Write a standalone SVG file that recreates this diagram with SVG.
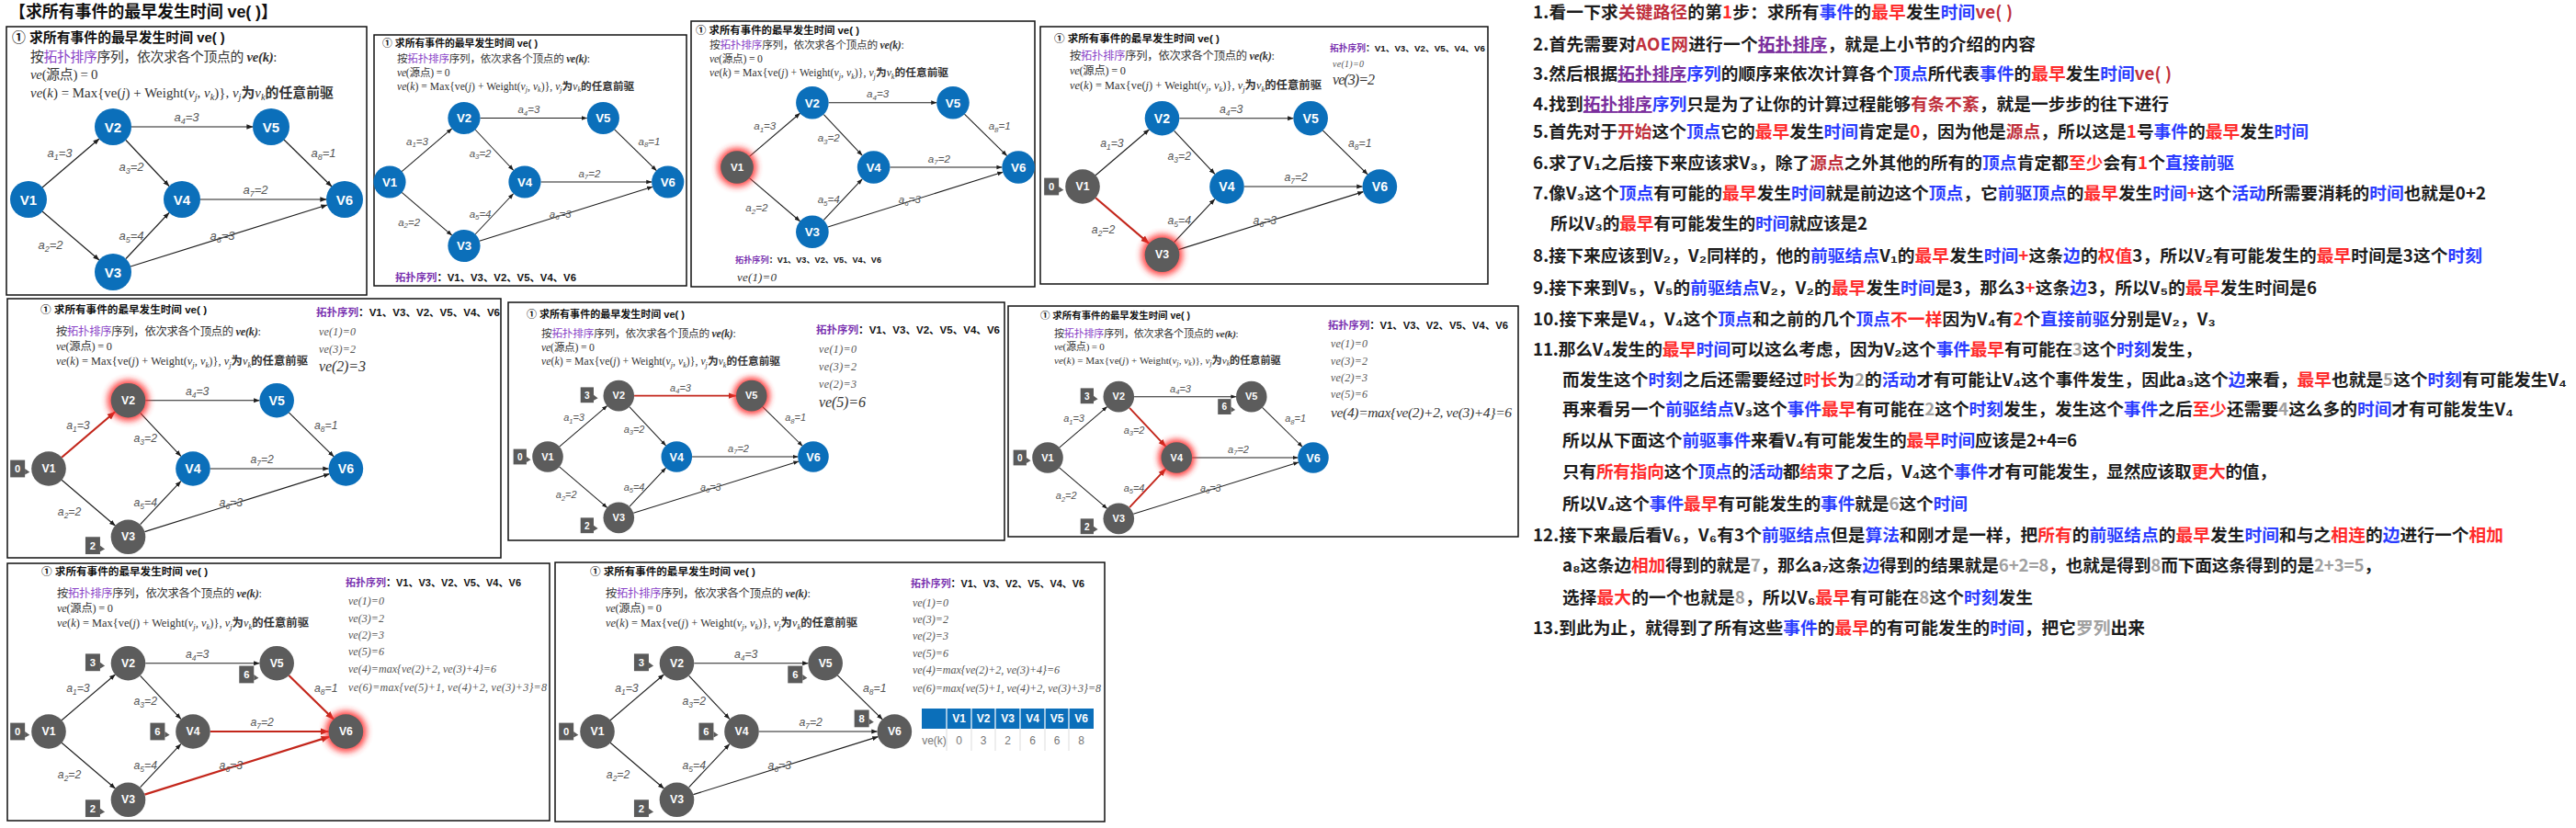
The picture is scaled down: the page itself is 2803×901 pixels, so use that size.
<svg xmlns="http://www.w3.org/2000/svg" xmlns:xlink="http://www.w3.org/1999/xlink" width="2803" height="901" viewBox="0 0 2803 901">
<style>
.box{fill:#fff;stroke:#111;stroke-width:1.5}
.nb{fill:#0b6fba}
.ng{fill:#5c5c5c}
.glow{fill:#ff2e2e;opacity:.9}
.nl{font-family:"Liberation Sans",Arial,sans-serif;font-weight:bold;font-size:15px;fill:#fff;text-anchor:middle}
.ngl{font-size:13px}
.e{stroke:#1e1e1e;stroke-width:1.2;fill:none;marker-end:url(#ak)}
.er{stroke:#c3261b;stroke-width:2.3;fill:none;marker-end:url(#ar)}
.lb{font-family:"Liberation Sans",Arial,sans-serif;font-style:italic;font-size:13px;fill:#555;text-anchor:middle}
.sb{font-size:9px}
.cb{fill:#5a5a5a}
.ct{font-family:"Liberation Sans",Arial,sans-serif;font-weight:bold;font-size:12px;fill:#fff;text-anchor:middle}
.ttl{font-family:"Liberation Sans","Noto Sans CJK SC",sans-serif;font-weight:bold;fill:#111}
.frm{font-family:"Liberation Serif","Noto Sans CJK SC",serif;fill:#333}
.pu{fill:#8b45c8}
.it{font-style:italic}
.bi{font-style:italic;font-weight:bold}
.cj{font-family:"Noto Sans CJK SC",sans-serif;font-weight:bold}
.topo{font-family:"Liberation Sans","Noto Sans CJK SC",sans-serif;font-weight:bold;fill:#111}
.tp{fill:#7a32b0}
.ve{font-family:"Liberation Serif",serif;font-style:italic;fill:#555}
.vb{fill:#333}
.rt{font-family:"Noto Sans CJK SC",sans-serif;font-weight:bold;font-size:18.7px;fill:#1c1c1c}
.r{fill:#ff2b2b}.dr{fill:#c0303c}.b{fill:#2a3cff}.p{fill:#7b2f9d;text-decoration:underline}.g{fill:#a0a0a0}
.th{font-family:"Liberation Sans",Arial,sans-serif;font-weight:bold;font-size:12px;fill:#fff;text-anchor:middle}
.td{font-family:"Liberation Sans",Arial,sans-serif;font-size:12px;fill:#777;text-anchor:middle}
</style>
<defs>
<marker id="ak" viewBox="0 0 10 10" refX="9.5" refY="5" markerWidth="7" markerHeight="7" markerUnits="userSpaceOnUse" orient="auto"><path d="M0,1.2L10,5L0,8.8z" fill="#1e1e1e"/></marker>
<marker id="ar" viewBox="0 0 10 10" refX="9.5" refY="5" markerWidth="10" markerHeight="10" markerUnits="userSpaceOnUse" orient="auto"><path d="M0,1.2L10,5L0,8.8z" fill="#c3261b"/></marker>
<filter id="gl" x="-1" y="-1" width="3" height="3"><feGaussianBlur stdDeviation="4"/></filter>
<g id="ttl"><text class="ttl" x="0" y="0" font-size="11.6" textLength="181">① 求所有事件的最早发生时间 ve( )</text></g>
<g id="frm">
<text class="frm" x="0" y="0" font-size="12.3" textLength="223">按<tspan class="pu">拓扑排序</tspan>序列，依次求各个顶点的 <tspan class="bi">ve(k)</tspan>:</text>
<text class="frm" x="0" y="16" font-size="12.3" textLength="61"><tspan class="it">ve</tspan>(源点) = 0</text>
<text class="frm" x="0" y="32" font-size="12.3" textLength="274"><tspan class="it">ve</tspan>(<tspan class="it">k</tspan>) = Max{ve(<tspan class="it">j</tspan>) + Weight(<tspan class="it">v</tspan><tspan class="it" font-size="8.5" dy="2.5">j</tspan><tspan dy="-2.5">, </tspan><tspan class="it">v</tspan><tspan class="it" font-size="8.5" dy="2.5">k</tspan><tspan dy="-2.5">)}, </tspan><tspan class="it">v</tspan><tspan class="it" font-size="8.5" dy="2.5">j</tspan><tspan dy="-2.5" class="cj">为</tspan><tspan class="it">v</tspan><tspan class="it" font-size="8.5" dy="2.5">k</tspan><tspan dy="-2.5" class="cj">的任意前驱</tspan></text>
</g>
<g id="topo"><text class="topo" x="0" y="0" font-size="11.5" textLength="200"><tspan class="tp">拓扑序列</tspan>：V1、V3、V2、V5、V4、V6</text></g>
<g id="lbls">
<text class="lb" x="34" y="-46">a<tspan class="sb" dy="3">1</tspan><tspan dy="-3">=3</tspan></text>
<text class="lb" x="24" y="54">a<tspan class="sb" dy="3">2</tspan><tspan dy="-3">=2</tspan></text>
<text class="lb" x="112" y="-31">a<tspan class="sb" dy="3">3</tspan><tspan dy="-3">=2</tspan></text>
<text class="lb" x="172" y="-85">a<tspan class="sb" dy="3">4</tspan><tspan dy="-3">=3</tspan></text>
<text class="lb" x="112" y="44">a<tspan class="sb" dy="3">5</tspan><tspan dy="-3">=4</tspan></text>
<text class="lb" x="211" y="44">a<tspan class="sb" dy="3">6</tspan><tspan dy="-3">=3</tspan></text>
<text class="lb" x="247" y="-6">a<tspan class="sb" dy="3">7</tspan><tspan dy="-3">=2</tspan></text>
<text class="lb" x="321" y="-46">a<tspan class="sb" dy="3">8</tspan><tspan dy="-3">=1</tspan></text>
</g>
<g id="co"><rect class="cb" x="-8.5" y="-10" width="17" height="20"/><path class="cb" d="M8.5,0L14,4L8.5,7z"/></g>
</defs>
<rect width="2803" height="901" fill="#fff"/>
<text class="ttl" x="10" y="19" font-size="18" textLength="292">【求所有事件的最早发生时间 ve( )】</text>

<!-- Panel 1 -->
<g id="panel1">
<rect class="box" x="7" y="29" width="392" height="292"/>
<use href="#ttl" transform="translate(13,46) scale(1.28)"/>
<use href="#frm" transform="translate(33,67) scale(1.204)"/>
<g transform="translate(31,217)">
<g id="p1-edges">
<path class="e" d="M15,-13L77,-66"/><path class="e" d="M15,13L77,66"/><path class="e" d="M106,-64.5L153,-14.5"/><path class="e" d="M112,-79L244,-79"/><path class="e" d="M106,64.5L153,14.5"/><path class="e" d="M111,73L325,6"/><path class="e" d="M187,0L324,0"/><path class="e" d="M278,-65L330,-14"/>
<use href="#lbls"/>
</g>
<g id="p1-v1"><circle class="nb" r="20"/><text class="nl" y="5.5">V1</text></g>
<g id="p1-v2" transform="translate(92,-79)"><circle class="nb" r="20"/><text class="nl" y="5.5">V2</text></g>
<g id="p1-v3" transform="translate(92,79)"><circle class="nb" r="20"/><text class="nl" y="5.5">V3</text></g>
<g id="p1-v4" transform="translate(167,0)"><circle class="nb" r="20"/><text class="nl" y="5.5">V4</text></g>
<g id="p1-v5" transform="translate(264,-79)"><circle class="nb" r="20"/><text class="nl" y="5.5">V5</text></g>
<g id="p1-v6" transform="translate(344,0)"><circle class="nb" r="20"/><text class="nl" y="5.5">V6</text></g>
</g>
</g>

<!-- Panel 2 -->
<g id="panel2">
<rect class="box" x="407" y="38" width="340" height="273"/>
<use href="#ttl" transform="translate(416,51) scale(0.934)"/>
<use href="#frm" transform="translate(432,68) scale(0.942)"/>
<use href="#topo" transform="translate(430,306) scale(0.985)"/>
<g transform="translate(424,198) scale(0.88)">
<g id="p2-edges">
<path class="e" d="M15,-13L77,-66"/><path class="e" d="M15,13L77,66"/><path class="e" d="M106,-64.5L153,-14.5"/><path class="e" d="M112,-79L244,-79"/><path class="e" d="M106,64.5L153,14.5"/><path class="e" d="M111,73L325,6"/><path class="e" d="M187,0L324,0"/><path class="e" d="M278,-65L330,-14"/>
<use href="#lbls"/>
</g>
<g id="p2-v1"><circle class="nb" r="20"/><text class="nl" y="5.5">V1</text></g>
<g id="p2-v2" transform="translate(92,-79)"><circle class="nb" r="20"/><text class="nl" y="5.5">V2</text></g>
<g id="p2-v3" transform="translate(92,79)"><circle class="nb" r="20"/><text class="nl" y="5.5">V3</text></g>
<g id="p2-v4" transform="translate(167,0)"><circle class="nb" r="20"/><text class="nl" y="5.5">V4</text></g>
<g id="p2-v5" transform="translate(264,-79)"><circle class="nb" r="20"/><text class="nl" y="5.5">V5</text></g>
<g id="p2-v6" transform="translate(344,0)"><circle class="nb" r="20"/><text class="nl" y="5.5">V6</text></g>
</g>
</g>

<!-- Panel 3 -->
<g id="panel3">
<rect class="box" x="752" y="23" width="374" height="289"/>
<use href="#ttl" transform="translate(757,37) scale(0.983)"/>
<use href="#frm" transform="translate(772,53) scale(0.949)"/>
<use href="#topo" transform="translate(800,286) scale(0.795)"/>
<text class="ve vb" x="802" y="306" font-size="13" textLength="43">ve(1)=0</text>
<g transform="translate(802,182) scale(0.89)">
<g id="p3-edges">
<path class="e" d="M15,-13L77,-66"/><path class="e" d="M15,13L77,66"/><path class="e" d="M106,-64.5L153,-14.5"/><path class="e" d="M112,-79L244,-79"/><path class="e" d="M106,64.5L153,14.5"/><path class="e" d="M111,73L325,6"/><path class="e" d="M187,0L324,0"/><path class="e" d="M278,-65L330,-14"/>
<use href="#lbls"/>
</g>
<g id="p3-v1"><circle class="glow" r="24" filter="url(#gl)"/><circle class="ng" r="20"/><text class="nl ngl" y="4.5">V1</text></g>
<g id="p3-v2" transform="translate(92,-79)"><circle class="nb" r="20"/><text class="nl" y="5.5">V2</text></g>
<g id="p3-v3" transform="translate(92,79)"><circle class="nb" r="20"/><text class="nl" y="5.5">V3</text></g>
<g id="p3-v4" transform="translate(167,0)"><circle class="nb" r="20"/><text class="nl" y="5.5">V4</text></g>
<g id="p3-v5" transform="translate(264,-79)"><circle class="nb" r="20"/><text class="nl" y="5.5">V5</text></g>
<g id="p3-v6" transform="translate(344,0)"><circle class="nb" r="20"/><text class="nl" y="5.5">V6</text></g>
</g>
</g>

<!-- Panel 4 -->
<g id="panel4">
<rect class="box" x="1132" y="29" width="487" height="280"/>
<use href="#ttl" transform="translate(1147,46) scale(0.994)"/>
<use href="#frm" transform="translate(1164,65)"/>
<use href="#topo" transform="translate(1447,56) scale(0.845)"/>
<text class="ve" x="1450" y="73" font-size="10" textLength="34">ve(1)=0</text>
<text class="ve vb" x="1450" y="92" font-size="16" textLength="46">ve(3)=2</text>
<g transform="translate(1178,203) scale(0.94)">
<g id="p4-edges">
<path class="e" d="M15,-13L77,-66"/><path class="er" d="M15,13L77,66"/><path class="e" d="M106,-64.5L153,-14.5"/><path class="e" d="M112,-79L244,-79"/><path class="e" d="M106,64.5L153,14.5"/><path class="e" d="M111,73L325,6"/><path class="e" d="M187,0L324,0"/><path class="e" d="M278,-65L330,-14"/>
<use href="#lbls"/>
</g>
<g id="p4-c0" transform="translate(-36,0)"><use href="#co"/><text class="ct" y="4.5">0</text></g>
<g id="p4-v1"><circle class="ng" r="20"/><text class="nl ngl" y="4.5">V1</text></g>
<g id="p4-v2" transform="translate(92,-79)"><circle class="nb" r="20"/><text class="nl" y="5.5">V2</text></g>
<g id="p4-v3" transform="translate(92,79)"><circle class="glow" r="24" filter="url(#gl)"/><circle class="ng" r="20"/><text class="nl ngl" y="4.5">V3</text></g>
<g id="p4-v4" transform="translate(167,0)"><circle class="nb" r="20"/><text class="nl" y="5.5">V4</text></g>
<g id="p4-v5" transform="translate(264,-79)"><circle class="nb" r="20"/><text class="nl" y="5.5">V5</text></g>
<g id="p4-v6" transform="translate(344,0)"><circle class="nb" r="20"/><text class="nl" y="5.5">V6</text></g>
</g>
</g>

<!-- Panel 5 -->
<g id="panel5">
<rect class="box" x="8" y="325" width="537" height="282"/>
<use href="#ttl" transform="translate(44,341)"/>
<use href="#frm" transform="translate(61,365)"/>
<use href="#topo" transform="translate(344,344)"/>
<text class="ve" x="347" y="365" font-size="12" textLength="40">ve(1)=0</text>
<text class="ve" x="347" y="384" font-size="12" textLength="40">ve(3)=2</text>
<text class="ve vb" x="347" y="404" font-size="16" textLength="51">ve(2)=3</text>
<g transform="translate(53,510) scale(0.94)">
<g id="p5-edges">
<path class="er" d="M15,-13L77,-66"/><path class="e" d="M15,13L77,66"/><path class="e" d="M106,-64.5L153,-14.5"/><path class="e" d="M112,-79L244,-79"/><path class="e" d="M106,64.5L153,14.5"/><path class="e" d="M111,73L325,6"/><path class="e" d="M187,0L324,0"/><path class="e" d="M278,-65L330,-14"/>
<use href="#lbls"/>
</g>
<g id="p5-c0" transform="translate(-36,0)"><use href="#co"/><text class="ct" y="4.5">0</text></g>
<g id="p5-c2" transform="translate(51,89)"><use href="#co"/><text class="ct" y="4.5">2</text></g>
<g id="p5-v1"><circle class="ng" r="20"/><text class="nl ngl" y="4.5">V1</text></g>
<g id="p5-v2" transform="translate(92,-79)"><circle class="glow" r="24" filter="url(#gl)"/><circle class="ng" r="20"/><text class="nl ngl" y="4.5">V2</text></g>
<g id="p5-v3" transform="translate(92,79)"><circle class="ng" r="20"/><text class="nl ngl" y="4.5">V3</text></g>
<g id="p5-v4" transform="translate(167,0)"><circle class="nb" r="20"/><text class="nl" y="5.5">V4</text></g>
<g id="p5-v5" transform="translate(264,-79)"><circle class="nb" r="20"/><text class="nl" y="5.5">V5</text></g>
<g id="p5-v6" transform="translate(344,0)"><circle class="nb" r="20"/><text class="nl" y="5.5">V6</text></g>
</g>
</g>

<!-- Panel 6 -->
<g id="panel6">
<rect class="box" x="553" y="329" width="540" height="259"/>
<use href="#ttl" transform="translate(573,346) scale(0.95)"/>
<use href="#frm" transform="translate(589,367) scale(0.949)"/>
<use href="#topo" transform="translate(888,363)"/>
<text class="ve" x="891" y="384" font-size="12" textLength="41">ve(1)=0</text>
<text class="ve" x="891" y="403" font-size="12" textLength="41">ve(3)=2</text>
<text class="ve" x="891" y="422" font-size="12" textLength="41">ve(2)=3</text>
<text class="ve vb" x="891" y="443" font-size="16" textLength="51">ve(5)=6</text>
<g transform="translate(596,497) scale(0.84)">
<g id="p6-edges">
<path class="e" d="M15,-13L77,-66"/><path class="e" d="M15,13L77,66"/><path class="e" d="M106,-64.5L153,-14.5"/><path class="er" d="M112,-79L244,-79"/><path class="e" d="M106,64.5L153,14.5"/><path class="e" d="M111,73L325,6"/><path class="e" d="M187,0L324,0"/><path class="e" d="M278,-65L330,-14"/>
<use href="#lbls"/>
</g>
<g id="p6-c3" transform="translate(51,-80)"><use href="#co"/><text class="ct" y="4.5">3</text></g>
<g id="p6-c0" transform="translate(-36,0)"><use href="#co"/><text class="ct" y="4.5">0</text></g>
<g id="p6-c2" transform="translate(51,89)"><use href="#co"/><text class="ct" y="4.5">2</text></g>
<g id="p6-v1"><circle class="ng" r="20"/><text class="nl ngl" y="4.5">V1</text></g>
<g id="p6-v2" transform="translate(92,-79)"><circle class="ng" r="20"/><text class="nl ngl" y="4.5">V2</text></g>
<g id="p6-v3" transform="translate(92,79)"><circle class="ng" r="20"/><text class="nl ngl" y="4.5">V3</text></g>
<g id="p6-v4" transform="translate(167,0)"><circle class="nb" r="20"/><text class="nl" y="5.5">V4</text></g>
<g id="p6-v5" transform="translate(264,-79)"><circle class="glow" r="24" filter="url(#gl)"/><circle class="ng" r="20"/><text class="nl ngl" y="4.5">V5</text></g>
<g id="p6-v6" transform="translate(344,0)"><circle class="nb" r="20"/><text class="nl" y="5.5">V6</text></g>
</g>
</g>

<!-- Panel 7 -->
<g id="panel7">
<rect class="box" x="1097" y="333" width="555" height="251"/>
<use href="#ttl" transform="translate(1132,347) scale(0.9)"/>
<use href="#frm" transform="translate(1147,367) scale(0.9)"/>
<use href="#topo" transform="translate(1445,358) scale(0.98)"/>
<text class="ve" x="1448" y="378" font-size="12" textLength="40">ve(1)=0</text>
<text class="ve" x="1448" y="397" font-size="12" textLength="40">ve(3)=2</text>
<text class="ve" x="1448" y="415" font-size="12" textLength="40">ve(2)=3</text>
<text class="ve" x="1448" y="433" font-size="12" textLength="40">ve(5)=6</text>
<text class="ve vb" x="1448" y="454" font-size="15.5" textLength="197">ve(4)=max{ve(2)+2, ve(3)+4}=6</text>
<g transform="translate(1140,498) scale(0.84)">
<g id="p7-edges">
<path class="e" d="M15,-13L77,-66"/><path class="e" d="M15,13L77,66"/><path class="er" d="M106,-64.5L153,-14.5"/><path class="e" d="M112,-79L244,-79"/><path class="er" d="M106,64.5L153,14.5"/><path class="e" d="M111,73L325,6"/><path class="e" d="M187,0L324,0"/><path class="e" d="M278,-65L330,-14"/>
<use href="#lbls"/>
</g>
<g id="p7-c3" transform="translate(51,-80)"><use href="#co"/><text class="ct" y="4.5">3</text></g>
<g id="p7-c6" transform="translate(229,-66)"><use href="#co"/><text class="ct" y="4.5">6</text></g>
<g id="p7-c0" transform="translate(-36,0)"><use href="#co"/><text class="ct" y="4.5">0</text></g>
<g id="p7-c2" transform="translate(51,89)"><use href="#co"/><text class="ct" y="4.5">2</text></g>
<g id="p7-v1"><circle class="ng" r="20"/><text class="nl ngl" y="4.5">V1</text></g>
<g id="p7-v2" transform="translate(92,-79)"><circle class="ng" r="20"/><text class="nl ngl" y="4.5">V2</text></g>
<g id="p7-v3" transform="translate(92,79)"><circle class="ng" r="20"/><text class="nl ngl" y="4.5">V3</text></g>
<g id="p7-v4" transform="translate(167,0)"><circle class="glow" r="24" filter="url(#gl)"/><circle class="ng" r="20"/><text class="nl ngl" y="4.5">V4</text></g>
<g id="p7-v5" transform="translate(264,-79)"><circle class="ng" r="20"/><text class="nl ngl" y="4.5">V5</text></g>
<g id="p7-v6" transform="translate(344,0)"><circle class="nb" r="20"/><text class="nl" y="5.5">V6</text></g>
</g>
</g>

<!-- Panel 8 -->
<g id="panel8">
<rect class="box" x="8" y="613" width="590" height="280"/>
<use href="#ttl" transform="translate(45,626)"/>
<use href="#frm" transform="translate(62,650)"/>
<use href="#topo" transform="translate(376,638) scale(0.955)"/>
<text class="ve" x="379" y="658" font-size="12" textLength="39">ve(1)=0</text>
<text class="ve" x="379" y="677" font-size="12" textLength="39">ve(3)=2</text>
<text class="ve" x="379" y="695" font-size="12" textLength="39">ve(2)=3</text>
<text class="ve" x="379" y="713" font-size="12" textLength="39">ve(5)=6</text>
<text class="ve" x="379" y="732" font-size="12" textLength="161">ve(4)=max{ve(2)+2, ve(3)+4}=6</text>
<text class="ve" x="379" y="752" font-size="12" textLength="216">ve(6)=max{ve(5)+1, ve(4)+2, ve(3)+3}=8</text>
<g transform="translate(53,796) scale(0.94)">
<g id="p8-edges">
<path class="e" d="M15,-13L77,-66"/><path class="e" d="M15,13L77,66"/><path class="e" d="M106,-64.5L153,-14.5"/><path class="e" d="M112,-79L244,-79"/><path class="e" d="M106,64.5L153,14.5"/><path class="er" d="M111,73L325,6"/><path class="er" d="M187,0L324,0"/><path class="er" d="M278,-65L330,-14"/>
<use href="#lbls"/>
</g>
<g id="p8-c3" transform="translate(51,-80)"><use href="#co"/><text class="ct" y="4.5">3</text></g>
<g id="p8-c6a" transform="translate(229,-66)"><use href="#co"/><text class="ct" y="4.5">6</text></g>
<g id="p8-c0" transform="translate(-36,0)"><use href="#co"/><text class="ct" y="4.5">0</text></g>
<g id="p8-c6b" transform="translate(126,0)"><use href="#co"/><text class="ct" y="4.5">6</text></g>
<g id="p8-c2" transform="translate(51,89)"><use href="#co"/><text class="ct" y="4.5">2</text></g>
<g id="p8-v1"><circle class="ng" r="20"/><text class="nl ngl" y="4.5">V1</text></g>
<g id="p8-v2" transform="translate(92,-79)"><circle class="ng" r="20"/><text class="nl ngl" y="4.5">V2</text></g>
<g id="p8-v3" transform="translate(92,79)"><circle class="ng" r="20"/><text class="nl ngl" y="4.5">V3</text></g>
<g id="p8-v4" transform="translate(167,0)"><circle class="ng" r="20"/><text class="nl ngl" y="4.5">V4</text></g>
<g id="p8-v5" transform="translate(264,-79)"><circle class="ng" r="20"/><text class="nl ngl" y="4.5">V5</text></g>
<g id="p8-v6" transform="translate(344,0)"><circle class="glow" r="24" filter="url(#gl)"/><circle class="ng" r="20"/><text class="nl ngl" y="4.5">V6</text></g>
</g>
</g>

<!-- Panel 9 -->
<g id="panel9">
<rect class="box" x="604" y="612" width="598" height="282"/>
<use href="#ttl" transform="translate(642,626) scale(0.994)"/>
<use href="#frm" transform="translate(659,650)"/>
<use href="#topo" transform="translate(991,639) scale(0.945)"/>
<text class="ve" x="993" y="660" font-size="12" textLength="39">ve(1)=0</text>
<text class="ve" x="993" y="678" font-size="12" textLength="39">ve(3)=2</text>
<text class="ve" x="993" y="696" font-size="12" textLength="39">ve(2)=3</text>
<text class="ve" x="993" y="715" font-size="12" textLength="39">ve(5)=6</text>
<text class="ve" x="993" y="733" font-size="12" textLength="160">ve(4)=max{ve(2)+2, ve(3)+4}=6</text>
<text class="ve" x="993" y="753" font-size="12" textLength="205">ve(6)=max{ve(5)+1, ve(4)+2, ve(3)+3}=8</text>
<g id="p9-table">
<rect x="1003" y="771" width="187" height="22" fill="#0b6fba"/>
<path d="M1030,771V793M1057,771V793M1083,771V793M1110,771V793M1137,771V793M1163,771V793" stroke="#fff" stroke-width="1.2"/>
<path d="M1030,793V817M1057,793V817M1083,793V817M1110,793V817M1137,793V817M1163,793V817" stroke="#ddd" stroke-width="1"/>
<text class="th" x="1043.5" y="786">V1</text><text class="th" x="1070" y="786">V2</text><text class="th" x="1096.5" y="786">V3</text><text class="th" x="1123.5" y="786">V4</text><text class="th" x="1150" y="786">V5</text><text class="th" x="1176.5" y="786">V6</text>
<text class="td" x="1016.5" y="810" font-size="11">ve(k)</text>
<text class="td" x="1043.5" y="810">0</text><text class="td" x="1070" y="810">3</text><text class="td" x="1096.5" y="810">2</text><text class="td" x="1123.5" y="810">6</text><text class="td" x="1150" y="810">6</text><text class="td" x="1176.5" y="810">8</text>
</g>
<g transform="translate(650,796) scale(0.94)">
<g id="p9-edges">
<path class="e" d="M15,-13L77,-66"/><path class="e" d="M15,13L77,66"/><path class="e" d="M106,-64.5L153,-14.5"/><path class="e" d="M112,-79L244,-79"/><path class="e" d="M106,64.5L153,14.5"/><path class="e" d="M111,73L325,6"/><path class="e" d="M187,0L324,0"/><path class="e" d="M278,-65L330,-14"/>
<use href="#lbls"/>
</g>
<g id="p9-c3" transform="translate(51,-80)"><use href="#co"/><text class="ct" y="4.5">3</text></g>
<g id="p9-c6a" transform="translate(229,-66)"><use href="#co"/><text class="ct" y="4.5">6</text></g>
<g id="p9-c0" transform="translate(-36,0)"><use href="#co"/><text class="ct" y="4.5">0</text></g>
<g id="p9-c6b" transform="translate(126,0)"><use href="#co"/><text class="ct" y="4.5">6</text></g>
<g id="p9-c8" transform="translate(306,-15)"><use href="#co"/><text class="ct" y="4.5">8</text></g>
<g id="p9-c2" transform="translate(51,89)"><use href="#co"/><text class="ct" y="4.5">2</text></g>
<g id="p9-v1"><circle class="ng" r="20"/><text class="nl ngl" y="4.5">V1</text></g>
<g id="p9-v2" transform="translate(92,-79)"><circle class="ng" r="20"/><text class="nl ngl" y="4.5">V2</text></g>
<g id="p9-v3" transform="translate(92,79)"><circle class="ng" r="20"/><text class="nl ngl" y="4.5">V3</text></g>
<g id="p9-v4" transform="translate(167,0)"><circle class="ng" r="20"/><text class="nl ngl" y="4.5">V4</text></g>
<g id="p9-v5" transform="translate(264,-79)"><circle class="ng" r="20"/><text class="nl ngl" y="4.5">V5</text></g>
<g id="p9-v6" transform="translate(344,0)"><circle class="ng" r="20"/><text class="nl ngl" y="4.5">V6</text></g>
</g>
</g>

<!-- Right-hand notes -->
<g id="notes">
<text class="rt" x="1668" y="20" textLength="522">1.看一下求<tspan class="dr">关键路径</tspan>的第<tspan class="r">1</tspan>步：求所有<tspan class="b">事件</tspan>的<tspan class="r">最早</tspan>发生<tspan class="b">时间</tspan><tspan class="dr">ve( )</tspan></text>
<text class="rt" x="1668" y="55" textLength="547">2.首先需要对<tspan class="dr">AO</tspan><tspan class="b">E</tspan><tspan class="dr">网</tspan>进行一个<tspan class="p">拓扑排序</tspan>，就是上小节的介绍的内容</text>
<text class="rt" x="1668" y="87" textLength="695">3.然后根据<tspan class="p">拓扑排序</tspan><tspan class="b">序列</tspan>的顺序来依次计算各个<tspan class="b">顶点</tspan>所代表<tspan class="b">事件</tspan>的<tspan class="r">最早</tspan>发生<tspan class="b">时间</tspan><tspan class="dr">ve( )</tspan></text>
<text class="rt" x="1668" y="120" textLength="692">4.找到<tspan class="p">拓扑排序</tspan><tspan class="b">序列</tspan>只是为了让你的计算过程能够<tspan class="dr">有条不紊</tspan>，就是一步步的往下进行</text>
<text class="rt" x="1668" y="150" textLength="844">5.首先对于<tspan class="dr">开始</tspan>这个<tspan class="b">顶点</tspan>它的<tspan class="r">最早</tspan>发生<tspan class="b">时间</tspan>肯定是<tspan class="r">0</tspan>，因为他是<tspan class="dr">源点</tspan>，所以这是<tspan class="r">1</tspan>号<tspan class="b">事件</tspan>的<tspan class="r">最早</tspan>发生<tspan class="b">时间</tspan></text>
<text class="rt" x="1668" y="184" textLength="763">6.求了V₁之后接下来应该求V₃，除了<tspan class="dr">源点</tspan>之外其他的所有的<tspan class="b">顶点</tspan>肯定都<tspan class="r">至少</tspan>会有<tspan class="r">1</tspan>个<tspan class="b">直接前驱</tspan></text>
<text class="rt" x="1668" y="217" textLength="1037">7.像V₃这个<tspan class="b">顶点</tspan>有可能的<tspan class="r">最早</tspan>发生<tspan class="b">时间</tspan>就是前边这个<tspan class="b">顶点</tspan>，它<tspan class="b">前驱顶点</tspan>的<tspan class="r">最早</tspan>发生<tspan class="b">时间</tspan><tspan class="r">+</tspan>这个<tspan class="b">活动</tspan>所需要消耗的<tspan class="b">时间</tspan>也就是0+2</text>
<text class="rt" x="1687" y="250" textLength="345">所以V₃的<tspan class="r">最早</tspan>有可能发生的<tspan class="b">时间</tspan>就应该是2</text>
<text class="rt" x="1668" y="285" textLength="1033">8.接下来应该到V₂，V₂同样的，他的<tspan class="b">前驱结点</tspan>V₁的<tspan class="r">最早</tspan>发生<tspan class="b">时间</tspan><tspan class="r">+</tspan>这条<tspan class="b">边</tspan>的<tspan class="r">权值</tspan>3，所以V₂有可能发生的<tspan class="r">最早</tspan>时间是3这个<tspan class="b">时刻</tspan></text>
<text class="rt" x="1668" y="320" textLength="853">9.接下来到V₅，V₅的<tspan class="b">前驱结点</tspan>V₂，V₂的<tspan class="r">最早</tspan>发生<tspan class="b">时间</tspan>是3，那么3<tspan class="r">+</tspan>这条<tspan class="b">边</tspan>3，所以V₅的<tspan class="r">最早</tspan>发生时间是6</text>
<text class="rt" x="1668" y="354" textLength="743">10.接下来是V₄，V₄这个<tspan class="b">顶点</tspan>和之前的几个<tspan class="b">顶点</tspan><tspan class="r">不一样</tspan>因为V₄有<tspan class="r">2</tspan>个<tspan class="b">直接前驱</tspan>分别是V₂，V₃</text>
<text class="rt" x="1668" y="387" textLength="728">11.那么V₄发生的<tspan class="r">最早</tspan><tspan class="b">时间</tspan>可以这么考虑，因为V₂这个<tspan class="b">事件</tspan><tspan class="r">最早</tspan>有可能在<tspan class="g">3</tspan>这个<tspan class="b">时刻</tspan>发生，</text>
<text class="rt" x="1700" y="420" textLength="1093">而发生这个<tspan class="b">时刻</tspan>之后还需要经过<tspan class="r">时长</tspan>为<tspan class="g">2</tspan>的<tspan class="b">活动</tspan>才有可能让V₄这个事件发生，因此a₃这个<tspan class="b">边</tspan>来看，<tspan class="r">最早</tspan>也就是<tspan class="g">5</tspan>这个<tspan class="b">时刻</tspan>有可能发生V₄</text>
<text class="rt" x="1700" y="452" textLength="1035">再来看另一个<tspan class="b">前驱结点</tspan>V₃这个<tspan class="b">事件</tspan><tspan class="r">最早</tspan>有可能在<tspan class="g">2</tspan>这个<tspan class="b">时刻</tspan>发生，发生这个<tspan class="b">事件</tspan>之后<tspan class="r">至少</tspan>还需要<tspan class="g">4</tspan>这么多的<tspan class="b">时间</tspan>才有可能发生V₄</text>
<text class="rt" x="1700" y="486" textLength="560">所以从下面这个<tspan class="b">前驱事件</tspan>来看V₄有可能发生的<tspan class="r">最早</tspan><tspan class="b">时间</tspan>应该是2+4=6</text>
<text class="rt" x="1700" y="520" textLength="777">只有<tspan class="r">所有指向</tspan>这个<tspan class="b">顶点</tspan>的<tspan class="b">活动</tspan>都<tspan class="r">结束</tspan>了之后，V₄这个<tspan class="b">事件</tspan>才有可能发生，显然应该取<tspan class="r">更大</tspan>的值，</text>
<text class="rt" x="1700" y="555" textLength="441">所以V₄这个<tspan class="b">事件</tspan><tspan class="r">最早</tspan>有可能发生的<tspan class="b">事件</tspan>就是<tspan class="g">6</tspan>这个<tspan class="b">时间</tspan></text>
<text class="rt" x="1668" y="589" textLength="1056">12.接下来最后看V₆，V₆有3个<tspan class="b">前驱结点</tspan>但是<tspan class="b">算法</tspan>和刚才是一样，把<tspan class="r">所有</tspan>的<tspan class="b">前驱结点</tspan>的<tspan class="r">最早</tspan>发生<tspan class="b">时间</tspan>和与之<tspan class="r">相连</tspan>的<tspan class="b">边</tspan>进行一个<tspan class="r">相加</tspan></text>
<text class="rt" x="1700" y="622" textLength="891">a₈这条边<tspan class="r">相加</tspan>得到的就是<tspan class="g">7</tspan>，那么a₇这条<tspan class="b">边</tspan>得到的结果就是<tspan class="g">6+2=8</tspan>，也就是得到<tspan class="g">8</tspan>而下面这条得到的是<tspan class="g">2+3=5</tspan>，</text>
<text class="rt" x="1700" y="657" textLength="512">选择<tspan class="r">最大</tspan>的一个也就是<tspan class="g">8</tspan>，所以V₆<tspan class="r">最早</tspan>有可能在<tspan class="g">8</tspan>这个<tspan class="b">时刻</tspan>发生</text>
<text class="rt" x="1668" y="690" textLength="666">13.到此为止，就得到了所有这些<tspan class="b">事件</tspan>的<tspan class="r">最早</tspan>的有可能发生的<tspan class="b">时间</tspan>，把它<tspan class="g">罗列</tspan>出来</text>
</g>
</svg>
